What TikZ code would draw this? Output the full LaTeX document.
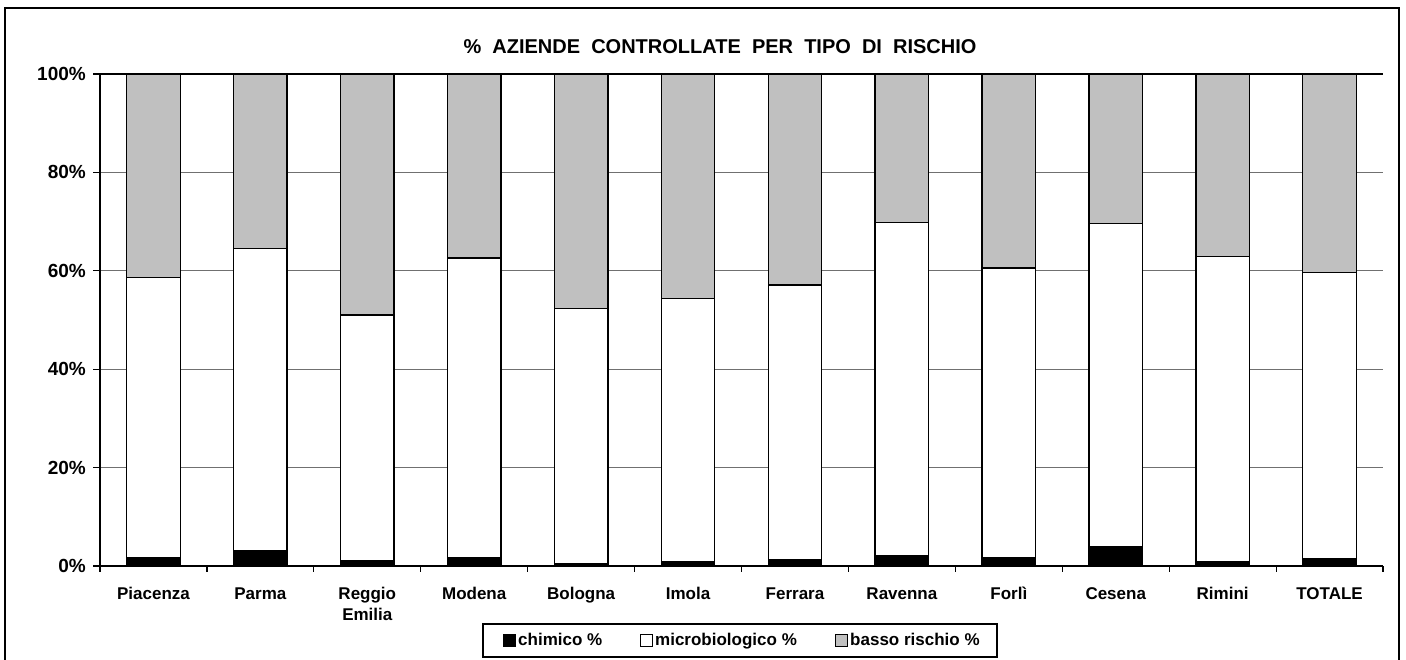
\documentclass[tikz,border=0pt]{standalone}
\usepackage{fontspec}
\setmainfont{Liberation Sans}
\definecolor{bassogray}{HTML}{C0C0C0}
\definecolor{gridgray}{HTML}{707070}
\begin{document}
\begin{tikzpicture}[x=1pt,y=-1pt,
  lbl/.style={font=\bfseries\fontsize{17}{21}\selectfont, inner sep=0pt},
  ylbl/.style={font=\bfseries\fontsize{19}{21}\selectfont, inner sep=0pt},
  ttl/.style={font=\bfseries\fontsize{20}{24}\selectfont, inner sep=0pt},
  seg/.style={draw=black, line width=1.3pt},
  gridl/.style={draw=gridgray, line width=0.9pt},
  axisl/.style={draw=black, line width=1.2pt}]
\useasboundingbox (0,0) rectangle (1406,659);
\fill[white] (0,0) rectangle (1406,659);
% frame
\draw[line width=1.4pt] (5,662) -- (5,8) -- (1399,8) -- (1399,662);
% title
\node[ttl] (title) at (720,47) {\%\ \ AZIENDE\ \ CONTROLLATE\ \ PER\ \ TIPO\ \ DI\ \ RISCHIO};
% gridlines
\foreach \v in {20,40,60,80} {
  \draw[gridl] (100,{566-4.92*\v}) -- (1383,{566-4.92*\v});
}
\draw[axisl] (100,74) -- (1383,74);
% bars
\foreach \i/\c/\m in {0/1.8/58.7, 1/3.2/64.6, 2/1.0/51.0, 3/1.8/62.6, 4/0.4/52.3, 5/0.9/54.3, 6/1.3/57.1, 7/2.2/69.8, 8/1.7/60.6, 9/4.0/69.6, 10/0.8/62.9, 11/1.5/59.6} {
  \pgfmathsetmacro{\xl}{100+106.92*\i+26.7}
  \pgfmathsetmacro{\xr}{\xl+53.5}
  \pgfmathsetmacro{\yc}{566-4.92*\c}
  \pgfmathsetmacro{\ym}{566-4.92*\m}
  \draw[seg, fill=bassogray] (\xl,74) rectangle (\xr,\ym);
  \draw[seg, fill=white] (\xl,\ym) rectangle (\xr,\yc);
  \draw[seg, fill=black] (\xl,\yc) rectangle (\xr,566);
}
% axes
\draw[axisl] (100,74) -- (100,566);
\draw[axisl] (100,566) -- (1383,566);
\foreach \v in {0,20,40,60,80,100} {
  \draw[axisl] (93,{566-4.92*\v}) -- (100,{566-4.92*\v});
  \node[ylbl, anchor=east] (y\v) at (86,{566-4.92*\v}) {\v\%};
}
\foreach \i in {0,...,12} {
  \draw[axisl] ({100+106.92*\i},566) -- ({100+106.92*\i},572);
}
% category labels
\foreach \i/\lab in {0/Piacenza, 1/Parma, 2/{Reggio\\Emilia}, 3/Modena, 4/Bologna, 5/Imola, 6/Ferrara, 7/Ravenna, 8/Forlì, 9/Cesena, 10/Rimini, 11/TOTALE} {
  \node[lbl, anchor=north, align=center] (c\i) at ({100+106.92*\i+53.46},586) {\rule{0pt}{13pt}\lab};
}
% legend
\draw[line width=1.2pt, fill=white] (483,624) rectangle (997,657);
\draw[line width=0.8pt, fill=black] (503,634) rectangle (515,646);
\node[lbl, anchor=base west] (l1) at (518,645.5) {chimico \%};
\draw[line width=0.8pt, fill=white] (640,634) rectangle (652,646);
\node[lbl, anchor=base west] (l2) at (655,645.5) {microbiologico \%};
\draw[line width=0.8pt, fill=bassogray] (835,634) rectangle (847,646);
\node[lbl, anchor=base west] (l3) at (850,645.5) {basso rischio \%};
\end{tikzpicture}
\end{document}
